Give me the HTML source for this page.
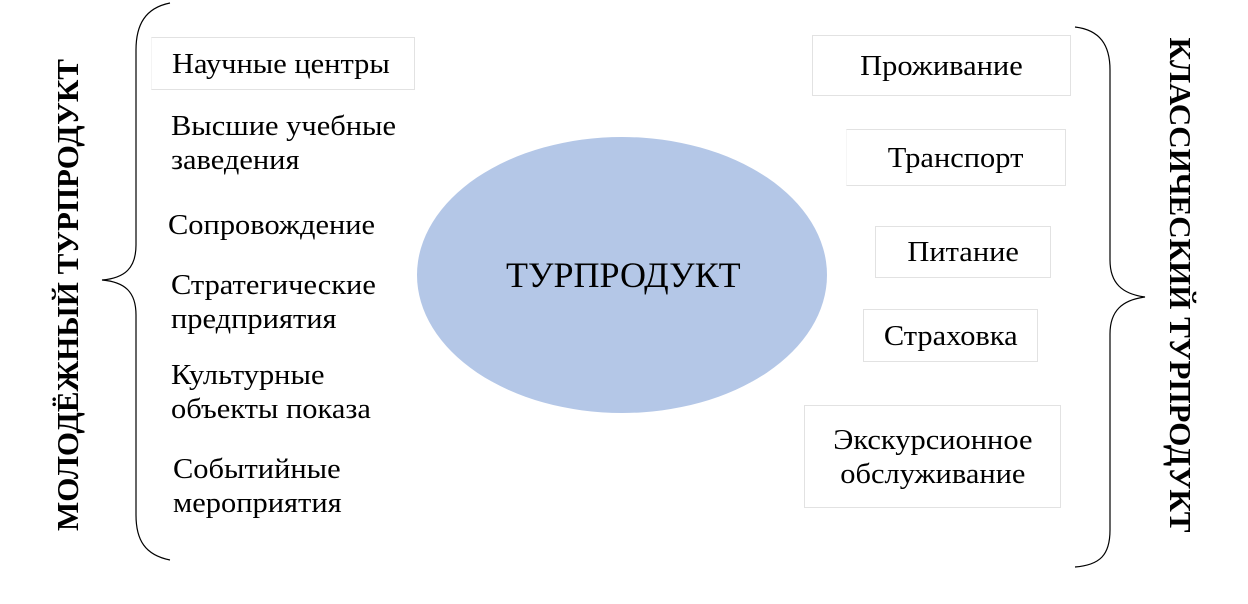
<!DOCTYPE html>
<html><head><meta charset="utf-8"><style>
html,body{margin:0;padding:0;background:#fff;}
#c{position:relative;width:1248px;height:604px;overflow:hidden;font-family:"Liberation Serif","DejaVu Serif",serif;color:#000;}
.t{position:absolute;font-size:29px;line-height:34px;white-space:nowrap;transform:scaleX(1.05);transform-origin:left top;}
.b{position:absolute;border:1.5px solid #e2e2e2;box-sizing:border-box;display:flex;align-items:center;justify-content:center;text-align:center;font-size:29px;line-height:34px;}
.b span{display:inline-block;transform:scaleX(1.05);white-space:nowrap;}
.v{position:absolute;font-size:31px;font-weight:bold;white-space:nowrap;line-height:36px;}
</style></head><body><div id="c">
<svg width="1248" height="604" style="position:absolute;left:0;top:0">
<ellipse cx="622" cy="275" rx="205" ry="138" fill="#b4c7e7"/>
<path d="M170,3 C145,8 136,25 136,50 L136,245 C136,268 125,278 102,280 C125,282 136,292 136,315 L136,515 C136,540 145,555 170,560" fill="none" stroke="#000" stroke-width="1.2"/>
<path d="M1075,27 C1100,30 1110,45 1110,70 L1110,260 C1110,283 1122,294 1145,297 C1122,300 1110,311 1110,334 L1110,530 C1110,555 1100,565 1075,567" fill="none" stroke="#000" stroke-width="1.2"/>
</svg>
<div class="t" style="left:506px;top:253px;font-size:36px;line-height:44px;transform:none;">ТУРПРОДУКТ</div>
<div class="b" style="left:151px;top:37px;width:264px;height:53px;border-left-color:#f4f4f4;justify-content:flex-start;padding-left:20px;"><span style="transform-origin:left center">Научные центры</span></div>
<div class="t" style="left:171px;top:109px;">Высшие учебные<br>заведения</div>
<div class="t" style="left:168px;top:208px;">Сопровождение</div>
<div class="t" style="left:171px;top:268px;">Стратегические<br>предприятия</div>
<div class="t" style="left:171px;top:358px;">Культурные<br>объекты показа</div>
<div class="t" style="left:173px;top:452px;">Событийные<br>мероприятия</div>
<div class="b" style="left:812px;top:35px;width:259px;height:61px;"><span>Проживание</span></div>
<div class="b" style="left:846px;top:129px;width:220px;height:57px;border-left-color:#f6f6f6;"><span>Транспорт</span></div>
<div class="b" style="left:875px;top:226px;width:176px;height:52px;"><span>Питание</span></div>
<div class="b" style="left:863px;top:309px;width:175px;height:53px;"><span>Страховка</span></div>
<div class="b" style="left:804px;top:405px;width:257px;height:103px;"><span>Экскурсионное<br>обслуживание</span></div>
<div class="v" style="left:68px;top:295px;transform:translate(-50%,-50%) rotate(-90deg);">МОЛОДЁЖНЫЙ ТУРПРОДУКТ</div>
<div class="v" style="left:1180px;top:285px;transform:translate(-50%,-50%) rotate(90deg);">КЛАССИЧЕСКИЙ ТУРПРОДУКТ</div>
</div></body></html>
